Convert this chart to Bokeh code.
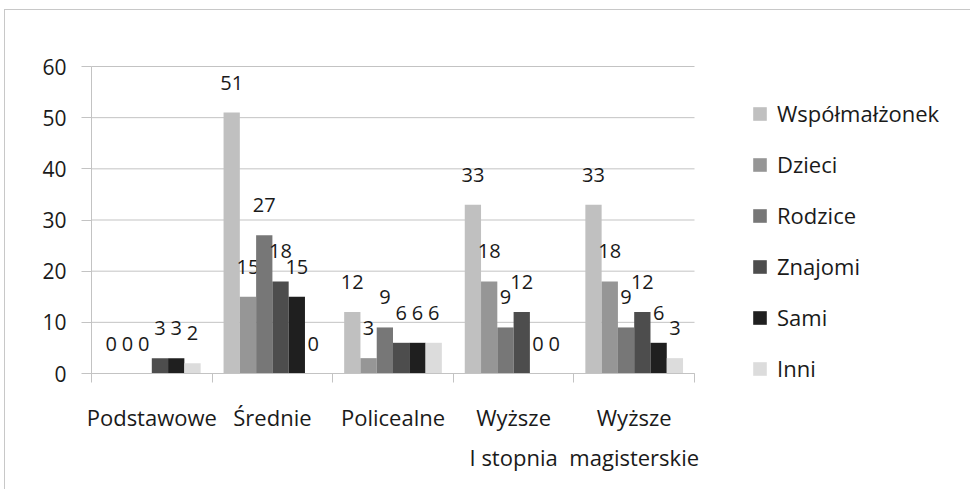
from bokeh.plotting import figure
from bokeh.models import (Range1d, LinearAxis, FixedTicker, ColumnDataSource,
                          Legend, LegendItem)
from bokeh.core.properties import value
from bokeh.embed import file_html
from bokeh.resources import INLINE

# ---- data ----
categories_line1 = ["Podstawowe", "Średnie", "Policealne", "Wyższe", "Wyższe"]
categories_line2 = ["", "", "", "I stopnia", "magisterskie"]
series = ["Współmałżonek", "Dzieci", "Rodzice", "Znajomi", "Sami", "Inni"]
wspolmalzonek = [0, 51, 12, 33, 33]
dzieci = [0, 15, 3, 18, 18]
rodzice = [0, 27, 9, 9, 9]
znajomi = [3, 18, 6, 12, 12]
sami = [3, 15, 6, 0, 6]
inni = [2, 0, 6, 0, 3]
values = [wspolmalzonek, dzieci, rodzice, znajomi, sami, inni]
colors = ["#c0c0c0", "#969696", "#777777", "#4d4d4d", "#1f1f1f", "#dcdcdc"]
y_ticks = [0, 10, 20, 30, 40, 50, 60]

FONT = "Open Sans"
GRID = "#c3c3c3"
TXT = "#1a1a1a"

n = len(categories_line1)
y_max = y_ticks[-1]
W, H = 966, 480
# canvas pixel positions of the chart area (category axis 0..n, values 0..y_max)
PLOT_LEFT, PLOT_RIGHT = 86, 689
PLOT_TOP, PLOT_BOTTOM = 56, 363
kx = n / (PLOT_RIGHT - PLOT_LEFT)
ky = y_max / (PLOT_BOTTOM - PLOT_TOP)
x_range = Range1d(-PLOT_LEFT * kx, (W - PLOT_LEFT) * kx)
y_range = Range1d(-(H - PLOT_BOTTOM) * ky, y_max + PLOT_TOP * ky)

p = figure(width=W, height=H, output_backend="svg", toolbar_location=None,
           x_range=x_range, y_range=y_range,
           min_border_left=0, min_border_top=0, min_border_right=0,
           min_border_bottom=0)
p.outline_line_color = None
p.background_fill_color = "white"
p.border_fill_color = "white"
p.styles = {"border-top": "1px solid #c8c8c8", "border-left": "1px solid #c8c8c8",
            "margin-top": "9px", "margin-left": "4px"}

# grid lines (only across the category area)
p.xgrid.grid_line_color = None
p.ygrid.grid_line_color = None
p.segment(x0=[0] * len(y_ticks), x1=[n] * len(y_ticks), y0=y_ticks, y1=y_ticks,
          line_color=GRID, line_width=1, level="underlay")

# y axis at category position 0
ya = p.yaxis[0]
ya.fixed_location = 0
ya.ticker = FixedTicker(ticks=y_ticks)
ya.bounds = (0, y_max)
ya.axis_line_color = GRID
ya.major_tick_line_color = GRID
ya.major_tick_out = 10
ya.major_tick_in = 0
ya.minor_tick_line_color = None
ya.major_label_text_font = FONT
ya.major_label_text_font_size = "21px"
ya.major_label_text_color = TXT
ya.major_label_standoff = 15

# x axis at value 0: labels at category centres, tick marks at boundaries
centers = [i + 0.5 for i in range(n)]
bounds = list(range(n + 1))
xa = p.xaxis[0]
xa.fixed_location = 0
xa.bounds = (0, n)
xa.ticker = FixedTicker(ticks=centers, minor_ticks=bounds)
xa.major_label_overrides = {c: l for c, l in zip(centers, categories_line1)}
xa.axis_line_color = GRID
xa.major_tick_line_color = None
xa.major_tick_out = 0
xa.major_tick_in = 0
xa.minor_tick_line_color = GRID
xa.minor_tick_out = 9
xa.minor_tick_in = 0
xa.major_label_text_font = FONT
xa.major_label_text_font_size = "22px"
xa.major_label_text_color = TXT
xa.major_label_standoff = 19

ax2 = LinearAxis(ticker=FixedTicker(ticks=centers), bounds=(0, n), fixed_location=0,
                 major_label_overrides={c: l for c, l in zip(centers, categories_line2)})
ax2.axis_line_color = None
ax2.major_tick_line_color = None
ax2.minor_tick_line_color = None
ax2.major_tick_out = 0
ax2.major_tick_in = 0
ax2.major_label_text_font = FONT
ax2.major_label_text_font_size = "22px"
ax2.major_label_text_color = TXT
ax2.major_label_standoff = 68
p.add_layout(ax2, "below")

# bars
bw = 0.135
items = []
for j, (name, vals, col) in enumerate(zip(series, values, colors)):
    xs = [i + 0.5 + (j - 2.5) * bw for i in range(n)]
    src = ColumnDataSource(dict(x=xs, top=vals, lab=[str(v) for v in vals]))
    r = p.vbar(x="x", top="top", width=bw, bottom=0, source=src,
               fill_color=col, line_color=None)
    p.text(x="x", y="top", text="lab", source=src, text_align="center",
           text_baseline="middle", y_offset=-30, text_font=value(FONT),
           text_font_size="20px", text_color=TXT)
    items.append(LegendItem(label=name, renderers=[r]))

legend = Legend(items=items, location=(PLOT_RIGHT + 57, 107))
legend.padding = 0
legend.margin = 0
legend.border_line_color = None
legend.background_fill_alpha = 0
legend.glyph_width = 17
legend.glyph_height = 17
legend.label_height = 20
legend.spacing = 21
legend.label_standoff = 9
legend.label_text_font = FONT
legend.label_text_font_size = "22px"
legend.label_text_color = TXT
p.add_layout(legend, "center")

open("out.html", "w").write(file_html(p, INLINE))
